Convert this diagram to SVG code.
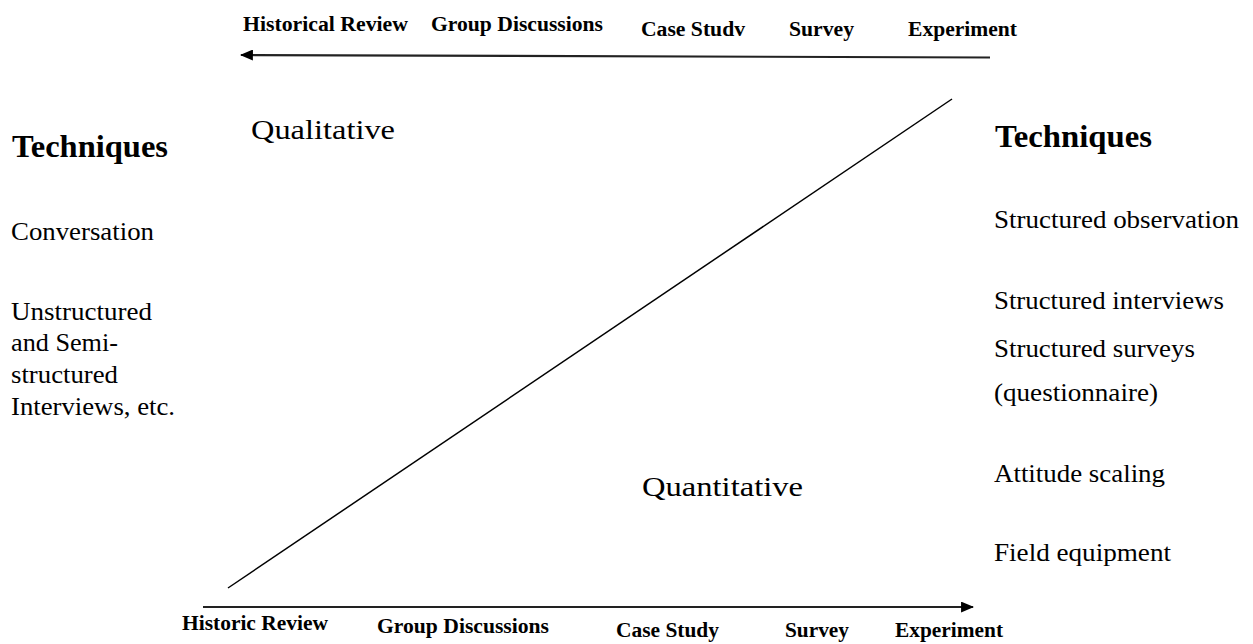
<svg xmlns="http://www.w3.org/2000/svg" width="1253" height="644" viewBox="0 0 1253 644">
<style>
text{font-family:"Liberation Serif","Times New Roman",serif;fill:#000}
.ax{font-weight:bold;font-size:20px}
.hd{font-weight:bold;font-size:31px}
.big{font-size:28px}
.it{font-size:25px}
.ln{stroke:#222;stroke-width:2.2;fill:none}
</style>
<defs>
<marker id="ah" viewBox="0 0 12 10" refX="11" refY="5" markerWidth="13" markerHeight="11" markerUnits="userSpaceOnUse" orient="auto">
<path d="M0,0 L12,5 L0,10 Z" fill="#000"/>
</marker>
</defs>
<g id="connectors">
<line class="ln" x1="990" y1="57.5" x2="241" y2="55" marker-end="url(#ah)"/>
<line class="ln" x1="203" y1="607" x2="973" y2="607" marker-end="url(#ah)"/>
<line x1="228" y1="588" x2="952" y2="99" stroke="#000" stroke-width="1.5"/>
</g>
<g id="top-scale">
<text class="ax" x="243" y="31" textLength="165" lengthAdjust="spacingAndGlyphs">Historical Review</text>
<text class="ax" x="431" y="31" textLength="172" lengthAdjust="spacingAndGlyphs">Group Discussions</text>
<text class="ax" x="641" y="36" textLength="104" lengthAdjust="spacingAndGlyphs">Case Studv</text>
<text class="ax" x="789" y="36" textLength="65" lengthAdjust="spacingAndGlyphs">Survey</text>
<text class="ax" x="908" y="36" textLength="109" lengthAdjust="spacingAndGlyphs">Experiment</text>
</g>
<g id="bottom-scale">
<text class="ax" x="182" y="630" textLength="146" lengthAdjust="spacingAndGlyphs">Historic Review</text>
<text class="ax" x="377" y="633" textLength="172" lengthAdjust="spacingAndGlyphs">Group Discussions</text>
<text class="ax" x="616" y="637" textLength="103" lengthAdjust="spacingAndGlyphs">Case Study</text>
<text class="ax" x="785" y="637" textLength="64" lengthAdjust="spacingAndGlyphs">Survey</text>
<text class="ax" x="895" y="637" textLength="108" lengthAdjust="spacingAndGlyphs">Experiment</text>
</g>
<g id="qualitative">
<text class="big" x="251" y="139" textLength="144" lengthAdjust="spacingAndGlyphs">Qualitative</text>
</g>
<g id="quantitative">
<text class="big" x="642" y="496" textLength="161" lengthAdjust="spacingAndGlyphs">Quantitative</text>
</g>
<g id="left-techniques">
<text class="hd" x="12" y="157" textLength="156" lengthAdjust="spacingAndGlyphs">Techniques</text>
<text class="it" x="11" y="240" textLength="143" lengthAdjust="spacingAndGlyphs">Conversation</text>
<text class="it" x="11" y="320" textLength="141" lengthAdjust="spacingAndGlyphs">Unstructured</text>
<text class="it" x="11" y="351" textLength="107" lengthAdjust="spacingAndGlyphs">and Semi-</text>
<text class="it" x="11" y="383" textLength="107" lengthAdjust="spacingAndGlyphs">structured</text>
<text class="it" x="11" y="415" textLength="164" lengthAdjust="spacingAndGlyphs">Interviews, etc.</text>
</g>
<g id="right-techniques">
<text class="hd" x="995" y="147" textLength="157" lengthAdjust="spacingAndGlyphs">Techniques</text>
<text class="it" x="994" y="228" textLength="245" lengthAdjust="spacingAndGlyphs">Structured observation</text>
<text class="it" x="994" y="309" textLength="230" lengthAdjust="spacingAndGlyphs">Structured interviews</text>
<text class="it" x="994" y="357" textLength="201" lengthAdjust="spacingAndGlyphs">Structured surveys</text>
<text class="it" x="994" y="401" textLength="164" lengthAdjust="spacingAndGlyphs">(questionnaire)</text>
<text class="it" x="994" y="482" textLength="171" lengthAdjust="spacingAndGlyphs">Attitude scaling</text>
<text class="it" x="994" y="561" textLength="177" lengthAdjust="spacingAndGlyphs">Field equipment</text>
</g>
</svg>
